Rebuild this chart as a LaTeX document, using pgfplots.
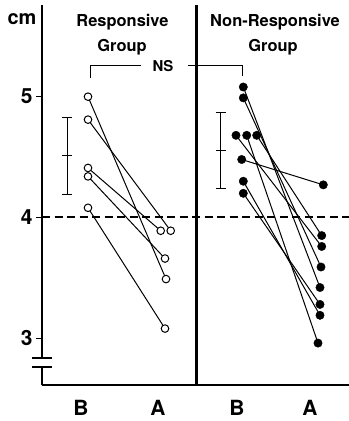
\documentclass[border=0pt]{standalone}
\usepackage{fontspec}
\setmainfont{TeX Gyre Heros}
\usepackage{pgfplots}
\pgfplotsset{compat=1.18}
\begin{document}
\begin{tikzpicture}
\useasboundingbox (0,0) rectangle (349bp,421bp);
\begin{axis}[
 at={(42bp,36bp)}, anchor=south west,
 scale only axis, width=307bp, height=380bp,
 xmin=42, xmax=349, ymin=2.613, ymax=5.759,
 axis x line*=bottom, axis y line*=left,
 axis line style={line width=2.8bp, -},
 clip=false,
 ytick={3,4,5},
 tick align=outside,
 major tick length=6bp,
 ytick style={line width=1.5bp, black},
 yticklabel style={font=\fontsize{21}{21}\selectfont\bfseries, /pgf/number format/assume math mode=true},
 xtick={81,158,237,310},
 xticklabels={B,A,B,A},
 x tick style={draw=none},
 xticklabel style={font=\fontsize{21}{21}\selectfont\bfseries, yshift=-6bp},
]
% axis break
\fill[white] (axis cs:38,2.762) rectangle (axis cs:46,2.837);
\draw[line width=2.5bp] (axis cs:32,2.837) -- (axis cs:52,2.837);
\draw[line width=2.5bp] (axis cs:32,2.762) -- (axis cs:52,2.762);
% divider
\draw[line width=3bp] (axis cs:196,2.613) -- (axis cs:196,5.759);
% reference line
\draw[line width=2bp, dash pattern=on 8bp off 4.5bp] (axis cs:42,4) -- (axis cs:349,4);
% mean +- sd
\addplot[black, only marks, mark=-, mark size=5bp, mark options={line width=1bp},
  error bars/.cd, y dir=both, y explicit,
  error bar style={line width=1bp},
  error mark=-, error mark options={rotate=90, line width=1bp, mark size=5bp}]
  coordinates {(67,4.51) +- (0,0.32) (220.7,4.555) +- (0,0.315)};
% responsive group
\addplot[black, line width=1bp] coordinates {(88,5.00) (166,3.49)};
\addplot[black, line width=1bp] coordinates {(88,4.81) (170.7,3.89)};
\addplot[black, line width=1bp] coordinates {(88,4.41) (160.7,3.89)};
\addplot[black, line width=1bp] coordinates {(88,4.34) (165,3.66)};
\addplot[black, line width=1bp] coordinates {(88,4.08) (165,3.08)};
% non-responsive group
\addplot[black, line width=1bp] coordinates {(243.3,5.08) (320,3.42)};
\addplot[black, line width=1bp] coordinates {(243.3,4.99) (321,3.59)};
\addplot[black, line width=1bp] coordinates {(236,4.68) (321.7,3.76)};
\addplot[black, line width=1bp] coordinates {(246.7,4.68) (318,2.96)};
\addplot[black, line width=1bp] coordinates {(256.7,4.68) (321.7,3.85)};
\addplot[black, line width=1bp] coordinates {(241.7,4.48) (323.3,4.27)};
\addplot[black, line width=1bp] coordinates {(243.3,4.30) (320,3.19)};
\addplot[black, line width=1bp] coordinates {(243.3,4.20) (320,3.28)};
% markers
\addplot[only marks, mark=*, mark size=3.8bp, mark options={draw=black, fill=white, line width=1bp}]
  coordinates {(88,5.00) (88,4.81) (88,4.41) (88,4.34) (88,4.08)
               (160.7,3.89) (170.7,3.89) (165,3.66) (166,3.49) (165,3.08)};
\addplot[only marks, mark=*, mark size=4.2bp, mark options={draw=black, fill=black}]
  coordinates {(243.3,5.08) (243.3,4.99) (236,4.68) (246.7,4.68) (256.7,4.68)
               (241.7,4.48) (243.3,4.30) (243.3,4.20)
               (323.3,4.27) (321.7,3.85) (321.7,3.76) (321,3.59) (320,3.42)
               (320,3.28) (320,3.19) (318,2.96)};
% texts
\node[anchor=base, font=\fontsize{20}{20}\selectfont\bfseries] at (axis cs:22,5.594) {cm};
\node[anchor=base, font=\fontsize{16.5}{16.5}\selectfont\bfseries] at (axis cs:122.5,5.577) {Responsive};
\node[anchor=base, font=\fontsize{16.5}{16.5}\selectfont\bfseries] at (axis cs:122,5.378) {Group};
\node[anchor=base, font=\fontsize{16.5}{16.5}\selectfont\bfseries] at (axis cs:275,5.577) {Non-Responsive};
\node[anchor=base, font=\fontsize{16.5}{16.5}\selectfont\bfseries] at (axis cs:273,5.378) {Group};
\node[anchor=base, font=\fontsize{15}{15}\selectfont\bfseries] at (axis cs:163,5.207) {NS};
\draw[line width=1bp] (axis cs:90,5.155) -- (axis cs:90,5.254) -- (axis cs:141,5.254);
\draw[line width=1bp] (axis cs:188,5.254) -- (axis cs:242.7,5.254) -- (axis cs:242.7,5.171);
\end{axis}
\end{tikzpicture}
\end{document}
